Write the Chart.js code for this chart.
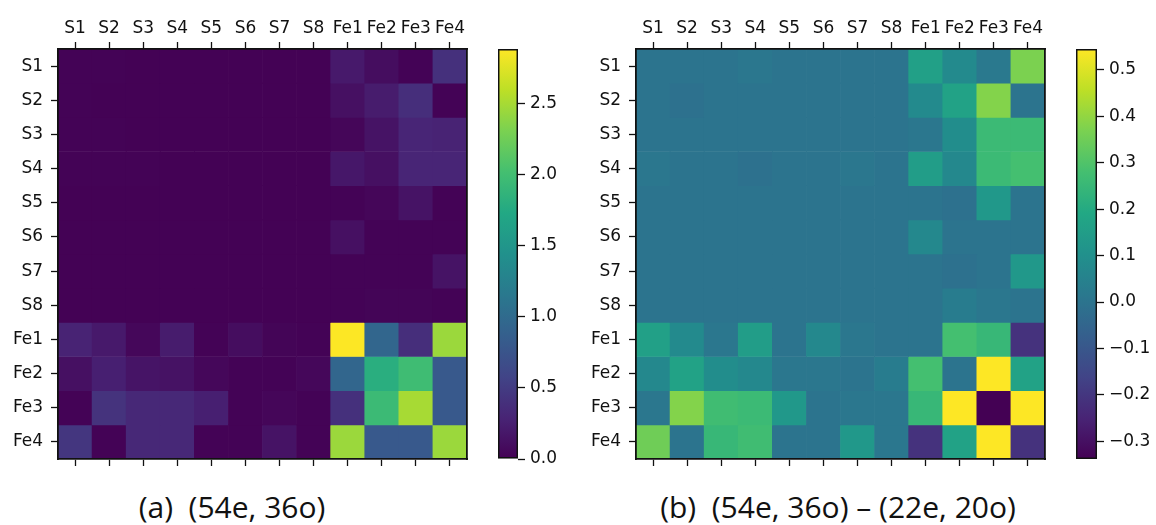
<!DOCTYPE html>
<html>
<head>
<meta charset="utf-8">
<script src="https://cdn.jsdelivr.net/npm/chart.js@4/dist/chart.umd.min.js"></script>
<style>
  body { margin: 0; background: #fff; width: 1156px; height: 525px; position: relative; overflow: hidden; }
  canvas { position: absolute; top: 0; }
  .cap { position: absolute; top: 486px; font-family: "Open Sans", sans-serif; font-size: 30px; color: #111; white-space: pre; transform: translateX(-50%); }
</style>
</head>
<body>
<canvas id="heatA" width="480" height="480" style="left:0px"></canvas>
<canvas id="barA" width="110" height="480" style="left:480px"></canvas>
<canvas id="heatB" width="480" height="480" style="left:578px"></canvas>
<canvas id="barB" width="98" height="480" style="left:1058px"></canvas>
<div class="cap" style="left:232px">(a)  (54e, 36o)</div>
<div class="cap" style="left:838px">(b)  (54e, 36o) – (22e, 20o)</div>
<script>
/*****
 data
 *****/
const labels = ["S1","S2","S3","S4","S5","S6","S7","S8","Fe1","Fe2","Fe3","Fe4"];

// (a) rows S1..Fe4, columns S1..Fe4
const valuesA = [
  [0.02,0.02,0.01,0.01,0.01,0.01,0.01,0.01,0.20,0.10,0.02,0.40],
  [0.02,0.01,0.01,0.01,0.01,0.01,0.01,0.01,0.12,0.22,0.38,0.02],
  [0.02,0.02,0.01,0.01,0.01,0.01,0.01,0.01,0.04,0.15,0.30,0.28],
  [0.02,0.02,0.02,0.01,0.01,0.01,0.01,0.01,0.18,0.12,0.30,0.30],
  [0.01,0.01,0.01,0.01,0.01,0.01,0.01,0.01,0.02,0.04,0.15,0.02],
  [0.01,0.01,0.01,0.01,0.01,0.01,0.01,0.01,0.12,0.02,0.02,0.02],
  [0.01,0.01,0.01,0.01,0.01,0.01,0.01,0.01,0.02,0.02,0.02,0.15],
  [0.01,0.01,0.01,0.01,0.01,0.01,0.01,0.01,0.02,0.03,0.03,0.02],
  [0.28,0.20,0.05,0.22,0.02,0.10,0.03,0.02,2.88,0.95,0.38,2.45],
  [0.12,0.25,0.16,0.14,0.05,0.02,0.02,0.05,0.95,1.80,1.98,0.80],
  [0.02,0.42,0.32,0.32,0.25,0.02,0.04,0.02,0.40,1.95,2.50,0.80],
  [0.45,0.02,0.32,0.32,0.02,0.02,0.15,0.02,2.45,0.80,0.80,2.45]
];

// (b) rows S1..Fe4, columns S1..Fe4
const valuesB = [
  [0.00,0.00,0.00,0.01,0.00,0.00,0.00,0.00,0.16,0.08,0.02,0.37],
  [0.00,-0.01,0.00,0.00,0.00,0.00,0.00,0.00,0.08,0.17,0.38,0.00],
  [0.00,0.00,0.00,0.00,0.00,0.00,0.00,0.00,0.01,0.09,0.26,0.26],
  [0.01,0.00,0.00,-0.01,0.00,0.00,0.01,0.00,0.15,0.07,0.26,0.28],
  [0.00,0.00,0.00,0.00,0.00,0.00,0.00,0.00,0.00,-0.01,0.13,0.00],
  [0.00,0.00,0.00,0.00,0.00,0.00,0.00,0.00,0.07,0.00,0.00,0.00],
  [0.00,0.00,0.00,0.00,0.00,0.00,0.00,0.00,0.00,-0.01,0.00,0.13],
  [0.00,0.00,0.00,0.00,0.00,0.00,0.00,0.00,0.00,0.03,0.01,0.00],
  [0.16,0.08,0.01,0.15,0.00,0.07,0.01,0.00,0.00,0.28,0.25,-0.21],
  [0.07,0.17,0.09,0.07,0.01,0.01,0.00,0.03,0.28,0.00,0.55,0.17],
  [0.01,0.38,0.27,0.26,0.13,0.00,0.01,0.01,0.25,0.55,-0.34,0.55],
  [0.35,0.00,0.25,0.27,0.00,0.00,0.13,0.01,-0.21,0.17,0.55,-0.21]
];

const rangeA = [0, 2.884];
const rangeB = [-0.338, 0.545];
const ticksA = [0.0, 0.5, 1.0, 1.5, 2.0, 2.5];
const ticksB = [-0.3, -0.2, -0.1, 0.0, 0.1, 0.2, 0.3, 0.4, 0.5];

/*****
 colour map
 *****/
const VIRIDIS = ["#440154","#482475","#414487","#355f8d","#2a788e","#21918c","#22a884","#44bf70","#7ad151","#bddf26","#fde725"];

function hexToRgb(h) {
  return [parseInt(h.slice(1,3),16), parseInt(h.slice(3,5),16), parseInt(h.slice(5,7),16)];
}
function viridis(t) {
  t = Math.min(1, Math.max(0, t));
  const p = t * 10;
  const i = Math.min(9, Math.floor(p));
  const f = p - i;
  const a = hexToRgb(VIRIDIS[i]), b = hexToRgb(VIRIDIS[i+1]);
  const c = a.map((v, k) => Math.round(v + (b[k] - v) * f));
  return "rgb(" + c.join(",") + ")";
}

const FONT = { family: "DejaVu Sans", size: 17 };
const INK = "#111";

/*****
 heatmap
 *****/
function heatmap(id, values, range) {
  const tickGrid = { drawOnChartArea: false, tickLength: 7, tickWidth: 1.3, tickColor: INK, offset: false, z: 1 };
  const frame = { color: INK, width: 1.8, z: 2 };
  return new Chart(document.getElementById(id), {
    type: "bar",
    data: {
      labels: labels,
      datasets: labels.map((row, r) => ({
        label: row,
        data: values[r].map(() => 1),
        backgroundColor: values[r].map(v => viridis((v - range[0]) / (range[1] - range[0]))),
        borderWidth: 0,
        barPercentage: 1,
        categoryPercentage: 1,
      })),
    },
    options: {
      responsive: false,
      animation: false,
      devicePixelRatio: 1,
      layout: { padding: 0 },
      plugins: { legend: { display: false }, tooltip: { enabled: false } },
      scales: {
        x: {
          position: "top", offset: true, stacked: true,
          grid: tickGrid, border: frame,
          ticks: { color: INK, font: FONT, padding: 3, maxRotation: 0, autoSkip: false },
          afterFit: s => { s.height = 49; },
        },
        xb: {
          type: "category", position: "bottom", offset: true,
          grid: tickGrid, border: frame,
          ticks: { display: false },
          afterFit: s => { s.height = 21; },
        },
        y: {
          type: "linear", position: "left", stacked: true, reverse: true, min: 0, max: 12,
          grid: tickGrid, border: frame,
          afterBuildTicks: s => { s.ticks = labels.map((l, i) => ({ value: i + 0.5 })); },
          ticks: { color: INK, font: FONT, padding: 8, autoSkip: false, callback: (v, i) => labels[i] },
          afterFit: s => { s.width = 58; },
        },
        yr: {
          type: "linear", position: "right", min: 0, max: 12,
          grid: { drawOnChartArea: false, drawTicks: false },
          border: frame,
          ticks: { display: false },
          afterFit: s => { s.width = 13; },
        },
      },
    },
  });
}

/*****
 colour bar
 *****/
function colorbar(id, range, tickValues, padLeft, axisWidth) {
  return new Chart(document.getElementById(id), {
    type: "bar",
    data: {
      labels: [""],
      datasets: [{
        data: [[range[0], range[1]]],
        backgroundColor: ctx => {
          const chart = ctx.chart;
          if (!chart.chartArea) return VIRIDIS[0];
          const y = chart.scales.y;
          const g = chart.ctx.createLinearGradient(0, y.getPixelForValue(range[0]), 0, y.getPixelForValue(range[1]));
          VIRIDIS.forEach((c, i) => g.addColorStop(i / 10, c));
          return g;
        },
        borderColor: INK,
        borderWidth: 1.8,
        borderSkipped: false,
        barPercentage: 1,
        categoryPercentage: 1,
      }],
    },
    options: {
      responsive: false,
      animation: false,
      devicePixelRatio: 1,
      layout: { padding: { left: padLeft, top: 49, bottom: 21, right: 0 } },
      plugins: { legend: { display: false }, tooltip: { enabled: false } },
      scales: {
        x: { display: false },
        y: {
          position: "right", min: range[0], max: range[1],
          grid: { drawOnChartArea: false, tickLength: 7, tickWidth: 1.3, tickColor: INK },
          border: { display: false },
          afterBuildTicks: s => { s.ticks = tickValues.map(v => ({ value: v })); },
          ticks: {
            color: INK, font: FONT, padding: 5, autoSkip: false,
            callback: v => (v < 0 ? "\u2212" : "") + Math.abs(v).toFixed(1),
          },
          afterFit: s => { s.width = axisWidth; },
        },
      },
    },
  });
}

heatmap("heatA", valuesA, rangeA);
heatmap("heatB", valuesB, rangeB);
colorbar("barA", rangeA, ticksA, 18, 72);
colorbar("barB", rangeB, ticksB, 18, 59);
</script>
</body>
</html>
